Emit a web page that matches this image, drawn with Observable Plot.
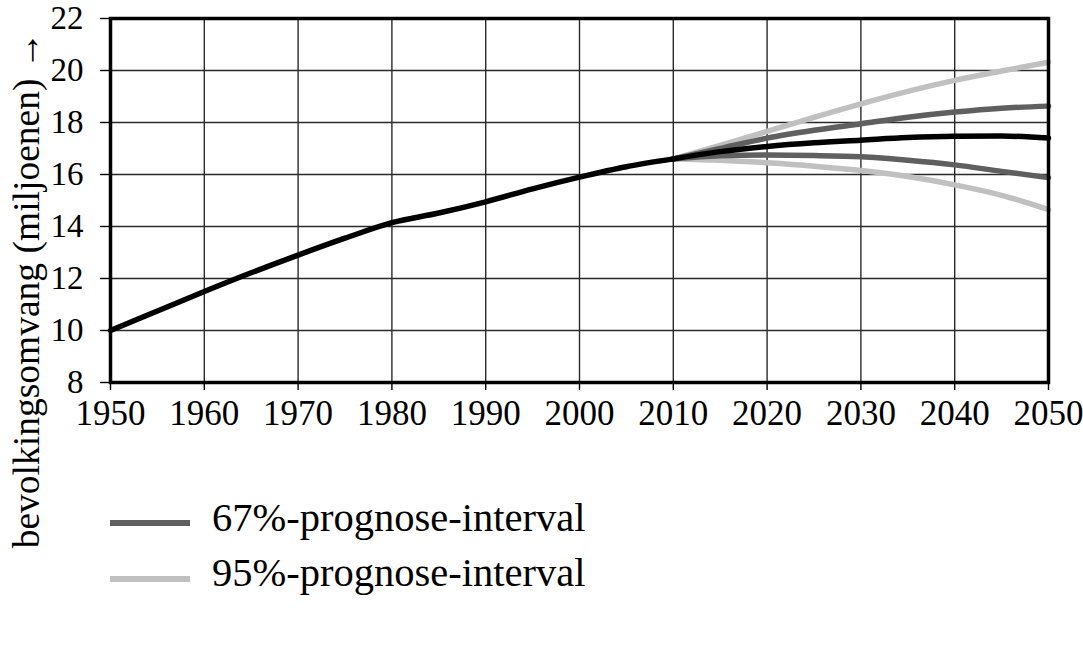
<!DOCTYPE html>
<html>
<head>
<meta charset="utf-8">
<script src="https://cdn.jsdelivr.net/npm/d3@7"></script>
<script src="https://cdn.jsdelivr.net/npm/@observablehq/plot@0.6"></script>
<style>
  html, body { margin: 0; padding: 0; background: #fff; }
  #wrap { position: relative; width: 1083px; height: 656px; font-family: "Liberation Serif", "Times New Roman", serif; color: #000; }
  #ylabel { position: absolute; left: 27px; top: 290px; transform: translate(-50%, -50%) rotate(-90deg); white-space: nowrap; font-size: 37.5px; line-height: 1; }
  .legtxt { position: absolute; left: 212px; font-size: 40.5px; line-height: 1; white-space: nowrap; }
  .sw { position: absolute; left: 110px; width: 80px; height: 6.5px; }
</style>
</head>
<body>
<div id="wrap">
  <div id="chart"></div>
  <div id="ylabel">bevolkingsomvang (miljoenen) →</div>
  <div class="sw" style="top:519.5px;background:#5f5f5f"></div>
  <div class="legtxt" style="top:498px">67%-prognose-interval</div>
  <div class="sw" style="top:575.5px;background:#c0c0c0"></div>
  <div class="legtxt" style="top:553px">95%-prognose-interval</div>
</div>
<script>
const xTicks = [1950, 1960, 1970, 1980, 1990, 2000, 2010, 2020, 2030, 2040, 2050];
const yTicks = [8, 10, 12, 14, 16, 18, 20, 22];

const histYears = [1950, 1955, 1960, 1965, 1970, 1975, 1980, 1985, 1990, 1995, 2000, 2005, 2010];
const histPop   = [10.0, 10.75, 11.5, 12.22, 12.9, 13.55, 14.15, 14.52, 14.95, 15.45, 15.9, 16.3, 16.6];

const fcYears = [2010, 2015, 2020, 2025, 2030, 2035, 2040, 2045, 2050];
const median  = [16.6, 16.88, 17.08, 17.22, 17.32, 17.42, 17.47, 17.48, 17.4];
const upper67 = [16.6, 17.0, 17.4, 17.7, 17.95, 18.2, 18.4, 18.55, 18.63];
const lower67 = [16.6, 16.72, 16.75, 16.73, 16.68, 16.55, 16.37, 16.12, 15.88];
const upper95 = [16.6, 17.12, 17.66, 18.2, 18.72, 19.2, 19.62, 19.98, 20.32];
const lower95 = [16.6, 16.55, 16.45, 16.32, 16.15, 15.92, 15.6, 15.2, 14.65];

const toRows = (xs, ys) => xs.map((x, i) => ({year: x, value: ys[i]}));
const hist = toRows(histYears, histPop);
const med = toRows(fcYears, median);
const u67 = toRows(fcYears, upper67);
const l67 = toRows(fcYears, lower67);
const u95 = toRows(fcYears, upper95);
const l95 = toRows(fcYears, lower95);

const lineOpts = (stroke) => ({x: "year", y: "value", stroke, strokeWidth: 5.5, curve: "monotone-x"});

const chart = Plot.plot({
  width: 1083,
  height: 440,
  marginLeft: 110,
  marginRight: 35,
  marginTop: 18,
  marginBottom: 58,
  style: {fontFamily: "'Liberation Serif', 'Times New Roman', serif", color: "#000", background: "#fff"},
  x: {domain: [1950, 2050]},
  y: {domain: [8, 22]},
  marks: [
    Plot.gridX({ticks: xTicks, stroke: "#2a2a2a", strokeOpacity: 1, strokeWidth: 1.4}),
    Plot.gridY({ticks: yTicks, stroke: "#2a2a2a", strokeOpacity: 1, strokeWidth: 1.4}),
    Plot.axisX({ticks: xTicks, anchor: "bottom", tickSize: 8, tickPadding: 10, fontSize: 35, label: null, tickFormat: d => String(d), strokeWidth: 1.4}),
    Plot.axisY({ticks: yTicks, anchor: "left", tickSize: 10, tickPadding: 17, fontSize: 33, label: null, strokeWidth: 1.4}),
    Plot.line(u95, lineOpts("#c0c0c0")),
    Plot.line(l95, lineOpts("#c0c0c0")),
    Plot.line(u67, lineOpts("#5f5f5f")),
    Plot.line(l67, lineOpts("#5f5f5f")),
    Plot.line(med, lineOpts("#000")),
    Plot.line(hist, lineOpts("#000")),
    Plot.frame({stroke: "#000", strokeWidth: 3.5})
  ]
});
document.getElementById("chart").appendChild(chart);
</script>
</body>
</html>
